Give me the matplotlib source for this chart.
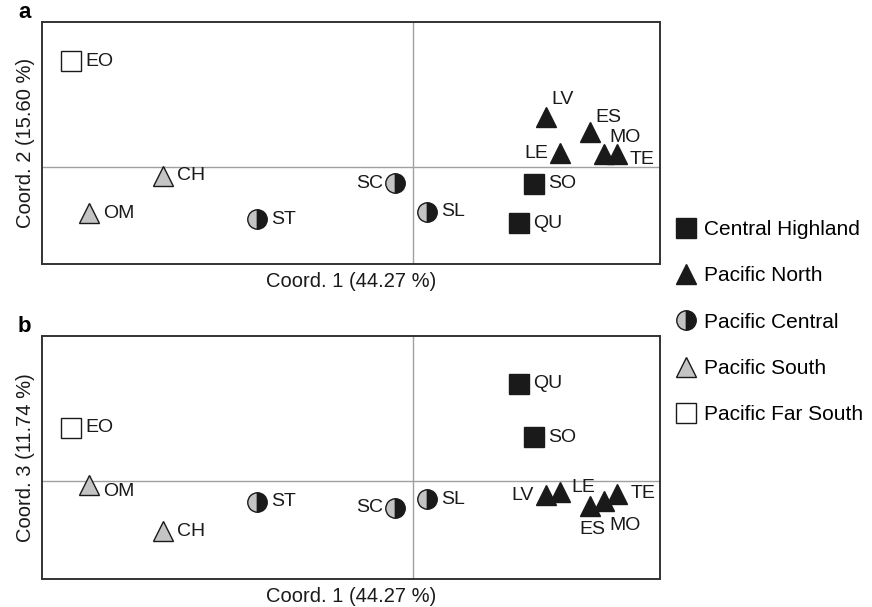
import matplotlib
matplotlib.use("Agg")
import matplotlib.pyplot as plt
from matplotlib.lines import Line2D

plt.rcParams['font.family'] = ['Liberation Sans', 'DejaVu Sans']

# ---- data ----
sites = ["EO", "CH", "OM", "ST", "SC", "SL", "SO", "QU", "LV", "ES", "LE", "MO", "TE"]
region = ["Pacific Far South", "Pacific South", "Pacific South", "Pacific Central",
          "Pacific Central", "Pacific Central", "Central Highland", "Central Highland",
          "Pacific North", "Pacific North", "Pacific North", "Pacific North", "Pacific North"]
coord1 = [-3.42, -2.50, -3.24, -1.56, -0.18, 0.14, 1.21, 1.06, 1.33, 1.77, 1.47, 1.91, 2.04]
coord2 = [1.06, -0.09, -0.46, -0.52, -0.16, -0.45, -0.17, -0.56, 0.50, 0.35, 0.14, 0.13, 0.13]
coord3 = [0.53, -0.50, -0.04, -0.21, -0.27, -0.18, 0.44, 0.97, -0.14, -0.25, -0.11, -0.20, -0.13]
legend_order = ["Central Highland", "Pacific North", "Pacific Central", "Pacific South",
                "Pacific Far South"]
xlabel = "Coord. 1 (44.27 %)"
ylabel_a = "Coord. 2 (15.60 %)"
ylabel_b = "Coord. 3 (11.74 %)"

# ---- styles ----
BLK = "#1a1a1a"
GRY = "#c4c4c4"
styles = {
    "Central Highland": dict(marker="s", mfc=BLK, mec=BLK, fillstyle="full"),
    "Pacific North": dict(marker="^", mfc=BLK, mec=BLK, fillstyle="full"),
    "Pacific Central": dict(marker="o", mfc=GRY, mec=BLK, fillstyle="left",
                            markerfacecoloralt=BLK),
    "Pacific South": dict(marker="^", mfc=GRY, mec=BLK, fillstyle="full"),
    "Pacific Far South": dict(marker="s", mfc="white", mec=BLK, fillstyle="full"),
}
MS = 14.0
MEW = 1.0
FS = 14

# label placement (offset in pixels, ha, va)
R = (14, 0, "left", "center")
L = (-12, 0, "right", "center")
place_a = {"EO": R, "CH": R, "OM": R, "ST": R, "SC": L, "SL": R, "SO": R, "QU": R,
           "LV": (5, 17, "left", "center"), "ES": (5, 14, "left", "center"),
           "LE": L, "MO": (5, 17, "left", "center"), "TE": (13, -5, "left", "center")}
place_b = {"EO": R, "CH": R, "OM": (14, -7, "left", "center"), "ST": R, "SC": L,
           "SL": R, "SO": R, "QU": R,
           "LV": L, "LE": (11, 5, "left", "center"), "ES": (2, -23, "center", "center"),
           "MO": (21, -25, "center", "center"), "TE": R}

W, H = 872, 607
fig = plt.figure(figsize=(W / 100, H / 100), dpi=100)


def make_axes(left, top, right, bottom):
    return fig.add_axes([left / W, 1 - bottom / H, (right - left) / W, (bottom - top) / H])


ax_a = make_axes(42, 22, 660, 264)
ax_b = make_axes(42, 336, 660, 579)


def draw(ax, ys, place, ylab, ylim):
    ax.axhline(0, color="#a0a0a0", lw=1.0, zorder=1)
    ax.axvline(0, color="#a0a0a0", lw=1.0, zorder=1)
    for s, r, x, y in zip(sites, region, coord1, ys):
        st = styles[r]
        ax.plot([x], [y], linestyle="none", ms=MS, mew=MEW, zorder=3, **st)
        dx, dy, ha, va = place[s]
        ax.annotate(s, (x, y), xytext=(dx, dy), textcoords="offset pixels",
                    ha=ha, va=va, fontsize=FS, color=BLK, zorder=4)
    ax.set_xlim(-3.71, 2.47)
    ax.set_ylim(*ylim)
    ax.set_xticks([])
    ax.set_yticks([])
    for sp in ax.spines.values():
        sp.set_linewidth(1.4)
        sp.set_color("#333333")
    ax.set_xlabel(xlabel, fontsize=14.5, color=BLK, labelpad=6)
    ax.set_ylabel(ylab, fontsize=14.5, color=BLK, labelpad=5)


draw(ax_a, coord2, place_a, ylabel_a, (-0.97, 1.45))
draw(ax_b, coord3, place_b, ylabel_b, (-0.98, 1.45))

fig.text(18 / W, 1 - 12 / H, "a", fontsize=16, fontweight="bold", ha="left", va="center")
fig.text(18 / W, 1 - 327 / H, "b", fontsize=16, fontweight="bold", ha="left", va="center")

handles = [Line2D([], [], linestyle="none", ms=MS, mew=MEW, **styles[r]) for r in legend_order]
fig.legend(handles, legend_order, loc="upper left", bbox_to_anchor=(676 / W, 1 - 220 / H),
           frameon=False, fontsize=15, handlelength=1.0, handletextpad=0.35,
           labelspacing=1.31, borderpad=0, borderaxespad=0)

fig.savefig("out.png", dpi=100)
